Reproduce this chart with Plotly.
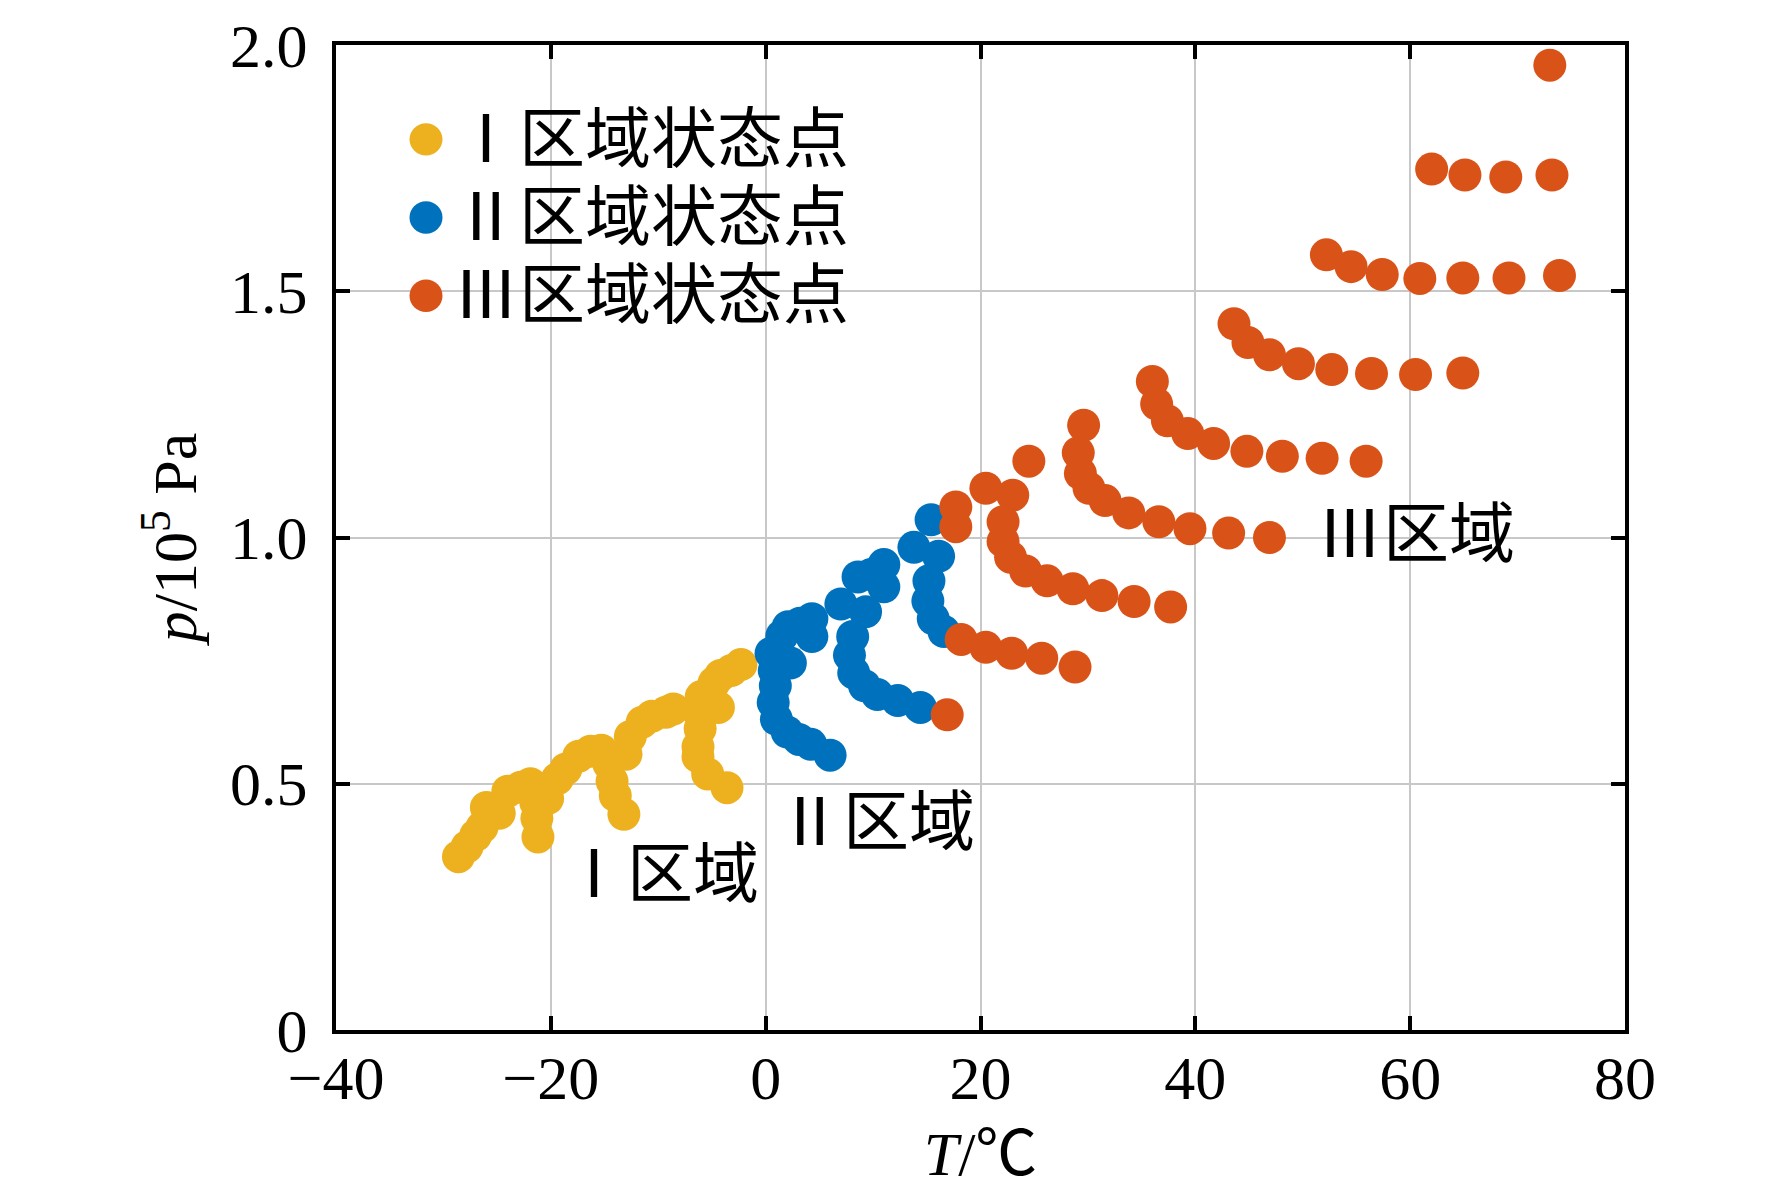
import plotly.graph_objects as go

# ---------------- data ----------------
region1_T = [-28.6, -27.8, -27.0, -26.4, -26.0, -24.8, -24.0, -22.8, -21.9, -21.4,
             -21.3, -21.2, -20.3, -19.4, -18.6, -17.4, -16.3, -15.3, -14.6, -14.3,
             -14.0, -13.2, -13.0, -12.6, -11.5, -10.6, -9.3, -8.6, -6.0, -4.4,
             -6.1, -6.1, -6.3, -6.3, -5.4, -3.6, -4.8, -4.2, -3.2, -2.3]
region1_p = [0.352, 0.372, 0.395, 0.412, 0.452, 0.440, 0.485, 0.493, 0.500, 0.462,
             0.430, 0.392, 0.470, 0.510, 0.530, 0.556, 0.566, 0.568, 0.540, 0.505,
             0.476, 0.438, 0.560, 0.596, 0.625, 0.637, 0.645, 0.652, 0.677, 0.655,
             0.640, 0.612, 0.575, 0.555, 0.520, 0.492, 0.705, 0.720, 0.730, 0.742]

region2_T = [0.5, 2.3, 1.5, 2.1, 3.2, 4.3, 4.3, 0.8, 0.9, 0.7, 1.0, 2.0, 3.1, 4.2, 6.0,
             8.6, 9.8, 11.0, 11.0, 7.0, 9.3, 8.1, 7.8, 8.2, 9.2, 10.4, 12.3, 14.4,
             15.4, 13.8, 16.1, 15.2, 15.1, 15.6, 16.6]
region2_p = [0.765, 0.745, 0.800, 0.819, 0.826, 0.835, 0.799, 0.730, 0.699, 0.665, 0.631,
             0.605, 0.590, 0.580, 0.558,
             0.920, 0.925, 0.945, 0.900, 0.865, 0.849, 0.799, 0.761, 0.725, 0.699, 0.681,
             0.669, 0.655,
             1.036, 0.980, 0.962, 0.912, 0.871, 0.835, 0.809]

region3_T = [17.7, 17.7, 16.9,
             18.2, 20.5, 22.9, 25.7, 28.8,
             20.5, 23.0, 22.1, 22.1, 22.8, 24.2, 26.2, 28.6, 31.3, 34.3, 37.7,
             24.5,
             29.6, 29.1, 29.3, 30.1, 31.6, 33.8, 36.6, 39.5, 43.1, 46.9,
             36.0, 36.4, 37.4, 39.3, 41.7, 44.8, 48.1, 51.8, 55.9,
             43.6, 44.9, 46.9, 49.6, 52.7, 56.4, 60.5, 64.9,
             52.2, 54.5, 57.4, 60.9, 64.9, 69.2, 73.9,
             62.0, 65.1, 68.9, 73.2,
             73.0]
region3_p = [1.062, 1.022, 0.640,
             0.793, 0.777, 0.765, 0.755, 0.737,
             1.100, 1.086, 1.032, 0.992, 0.960, 0.932, 0.912, 0.896, 0.882, 0.870, 0.859,
             1.155,
             1.228, 1.172, 1.130, 1.100, 1.075, 1.050, 1.032, 1.018, 1.009, 1.000,
             1.317, 1.271, 1.237, 1.211, 1.191, 1.175, 1.165, 1.161, 1.155,
             1.434, 1.396, 1.371, 1.353, 1.341, 1.333, 1.331, 1.334,
             1.574, 1.550, 1.534, 1.526, 1.527, 1.527, 1.532,
             1.748, 1.736, 1.732, 1.736,
             1.959]

series_names = ["Ⅰ区域状态点", "Ⅱ区域状态点", "Ⅲ区域状态点"]
series_colors = ["#EDB120", "#0072BD", "#D95319"]

x_ticks = [-40, -20, 0, 20, 40, 60, 80]
x_ticktext = ["−40", "−20", "0", "20", "40", "60", "80"]
y_ticks = [0, 0.5, 1.0, 1.5, 2.0]
y_ticktext = ["0", "0.5", "1.0", "1.5", "2.0"]

region_labels = ["Ⅰ区域", "Ⅱ区域", "Ⅲ区域"]
region_label_T = [-19.2, 0.85, 51.1]
region_label_p = [0.315, 0.422, 1.007]

# ---------------- figure ----------------
W, H = 1772, 1199
ML, MT = 336, 28
PW, PH = 1289, 1002
MR, MB = W - ML - PW, H - MT - PH

serif = "Liberation Serif, Times New Roman, Noto Sans CJK SC, serif"
cjk = "Liberation Serif, Noto Sans CJK SC, serif"
FS = 62
FS_CJK = 66

fig = go.Figure()
for T, p, name, col in zip([region1_T, region2_T, region3_T],
                           [region1_p, region2_p, region3_p],
                           series_names, series_colors):
    fig.add_trace(go.Scatter(x=T, y=p, mode="markers", name=name,
                             marker=dict(size=33, color=col, line=dict(width=0)),
                             showlegend=False))

# manual legend (large symbols like the reference)
leg_cx, leg_cy0, leg_dy, r = 426, 124, 79.5, 16.5
leg_text_x = 451
shapes = []
annotations = []
for i, (name, col) in enumerate(zip(series_names, series_colors)):
    cx = (leg_cx - ML) / PW
    cy = 1 - (leg_cy0 + i * leg_dy - MT) / PH
    shapes.append(dict(type="circle", xref="paper", yref="paper",
                       x0=cx - r / PW, x1=cx + r / PW, y0=cy - r / PH, y1=cy + r / PH,
                       fillcolor=col, line=dict(width=0), layer="above"))
    annotations.append(dict(xref="paper", yref="paper", x=(leg_text_x - ML) / PW, y=cy,
                            xanchor="left", yanchor="middle", showarrow=False,
                            text=name, font=dict(family=cjk, size=FS_CJK, color="black")))

for t, T, p in zip(region_labels, region_label_T, region_label_p):
    annotations.append(dict(x=T, y=p, xref="x", yref="y", xanchor="left", yanchor="middle",
                            showarrow=False, text=t,
                            font=dict(family=cjk, size=FS_CJK, color="black")))

axis_common = dict(showline=True, linecolor="black", linewidth=4, mirror="ticks",
                   ticks="inside", ticklen=14, tickwidth=4, tickcolor="black",
                   showgrid=True, gridcolor="#c8c8c8", gridwidth=2, zeroline=False,
                   ticklabeloverflow="allow",
                   tickfont=dict(family=serif, size=FS, color="black"))

fig.update_layout(
    width=W, height=H,
    margin=dict(l=ML, r=MR, t=MT, b=MB),
    paper_bgcolor="white", plot_bgcolor="white",
    xaxis=dict(range=[-40, 80], tickvals=x_ticks, ticktext=x_ticktext,
               ticklabelstandoff=-9,
               title=dict(text="<i>T</i>/℃", font=dict(family=serif, size=FS, color="black"),
                          standoff=21),
               **axis_common),
    yaxis=dict(range=[0, 2.0], tickvals=y_ticks, ticktext=y_ticktext,
               ticklabelstandoff=12,
               title=dict(text="<i>p</i>/10<sup>5</sup> Pa",
                          font=dict(family=serif, size=FS, color="black"), standoff=14),
               **axis_common),
    shapes=shapes,
    annotations=annotations,
    showlegend=False,
)

fig.write_html(
    "out.html",
    config={"displayModeBar": False},
    post_script="document.body.style.margin='0';document.body.style.overflow='hidden';",
)
